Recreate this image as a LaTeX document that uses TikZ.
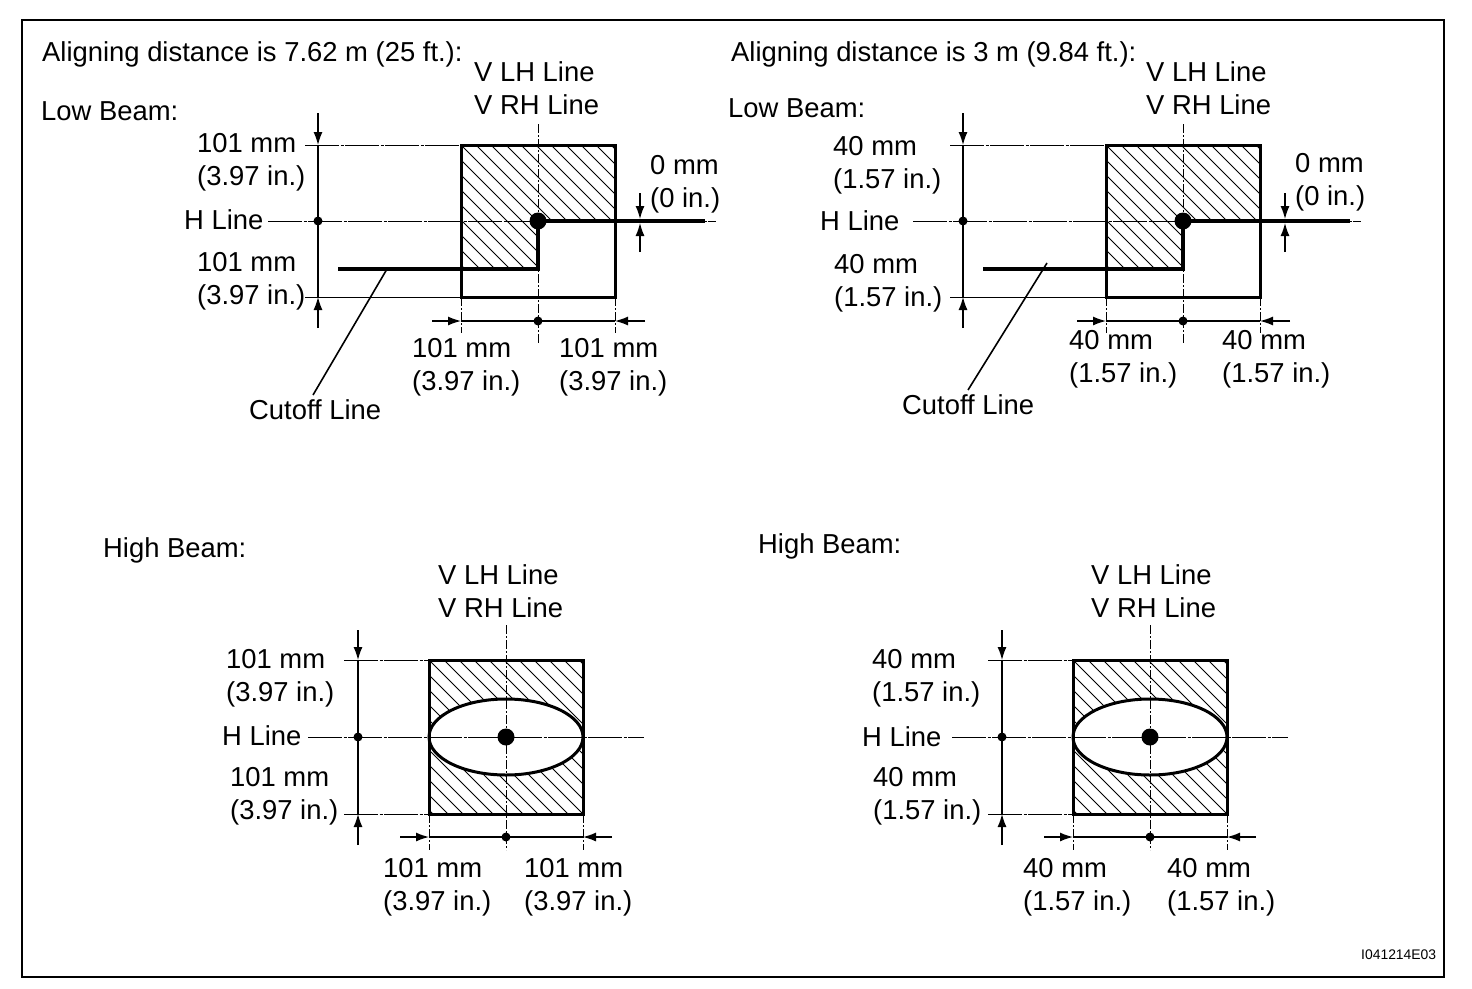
\documentclass[tikz,border=0pt]{standalone}
\usepackage{fontspec}
\setmainfont{Liberation Sans}
\usetikzlibrary{arrows.meta}
\tikzset{
  lbl/.style={anchor=west,inner sep=0pt,align=left,text=black,yshift=-2.5pt,font=\fontsize{27.4}{33}\selectfont},
  tiny/.style={anchor=west,inner sep=0pt,font=\fontsize{13.9}{15}\selectfont},
  frameline/.style={draw=black,line width=2pt},
  boxline/.style={draw=black,line width=3pt,line join=miter},
  beam/.style={draw=black,line width=4.6pt,line join=miter},
  dimline/.style={draw=black,line width=1.6pt},
  thin line/.style={draw=black,line width=1pt},
  axisline/.style={draw=black,line width=1pt,dash pattern=on 34pt off 1.5pt on 3pt off 1.5pt},
  centerline/.style={draw=black,line width=1pt,dash pattern=on 9pt off 2pt on 2pt off 2pt},
  hatchline/.style={draw=black,line width=1pt},
  arrowline/.style={draw=black,line width=1.3pt,-{Latex[length=13pt,width=9pt]}},
  leader/.style={draw=black,line width=1.6pt},
  dot/.style={circle,fill=black,inner sep=0pt,minimum size=#1},
}
% #1 name prefix, #2 x shift
\newcommand{\LowPanel}[2]{%
\begin{scope}[shift={(#2,0)}]
  \coordinate (#1tl) at (461,145);
  \coordinate (#1tr) at (615,145);
  \coordinate (#1br) at (615,297);
  \coordinate (#1bl) at (461,297);
  \begin{scope}
    \clip (461,145) -- (615,145) -- (615,221) -- (538,221) -- (538,269) -- (461,269) -- cycle;
    \foreach \i in {-135,-120,...,150} {\draw[hatchline] (461+\i,145) -- (461+\i+130,275);}
  \end{scope}
  \coordinate (#1hl) at (268,221);
  \coordinate (#1hr) at (716,221);
  \draw[axisline] (#1hl) -- (#1hr);
  \coordinate (#1vt) at (538,124);
  \coordinate (#1vb) at (538,344);
  \draw[centerline] (#1vt) -- (#1vb);
  \coordinate (#1tdl) at (305,145);
  \coordinate (#1bdl) at (305,297);
  \draw[axisline] (#1tdl) -- (#1tl);
  \draw[thin line] (#1bdl) -- (#1bl);
  \coordinate (#1exl) at (461,333);
  \coordinate (#1exr) at (615,333);
  \draw[centerline] (#1bl) -- (#1exl);
  \draw[centerline] (#1br) -- (#1exr);
  \draw[boxline] (#1bl) -- (#1tl) -- (#1tr) -- (#1br) -- cycle;
  \coordinate (#1ca) at (338,269);
  \coordinate (#1cb) at (538,269);
  \coordinate (#1cc) at (538,221);
  \coordinate (#1cd) at (705,221);
  \draw[beam] (#1ca) -- (#1cb) -- (#1cc) -- (#1cd);
  \node[dot=17pt] (#1cdot) at (538,221) {};
  \coordinate (#1dt) at (318,113);
  \coordinate (#1dtt) at (318,145);
  \coordinate (#1db) at (318,328);
  \coordinate (#1dbt) at (318,297);
  \draw[dimline] (#1dtt) -- (#1dbt);
  \draw[arrowline] (#1dt) -- (#1dtt);
  \draw[arrowline] (#1db) -- (#1dbt);
  \node[dot=9pt] (#1ldot) at (318,221) {};
  \coordinate (#1al) at (432,321);
  \coordinate (#1ar) at (645,321);
  \coordinate (#1ale) at (461,321);
  \coordinate (#1are) at (615,321);
  \draw[dimline] (#1ale) -- (#1are);
  \draw[arrowline] (#1al) -- (#1ale);
  \draw[arrowline] (#1ar) -- (#1are);
  \node[dot=9pt] (#1bdot) at (538,321) {};
  \coordinate (#1za) at (640,193);
  \coordinate (#1zb) at (640,252);
  \coordinate (#1zat) at (640,219);
  \coordinate (#1zbt) at (640,223);
  \draw[arrowline] (#1za) -- (#1zat);
  \draw[arrowline] (#1zb) -- (#1zbt);
\end{scope}}
\newcommand{\HighPanel}[2]{%
\begin{scope}[shift={(#2,0)}]
  \coordinate (#1tl) at (429,660);
  \coordinate (#1tr) at (583,660);
  \coordinate (#1br) at (583,814);
  \coordinate (#1bl) at (429,814);
  \begin{scope}
    \clip (429,660) rectangle (583,814);
    \foreach \i in {-150,-135,...,150} {\draw[hatchline] (429+\i,660) -- (429+\i+154,814);}
  \end{scope}
  \draw[boxline,fill=white] (506,737) ellipse [x radius=77, y radius=38];
  \coordinate (#1hl) at (308,737);
  \coordinate (#1hr) at (644,737);
  \draw[axisline] (#1hl) -- (#1hr);
  \coordinate (#1vt) at (506,625);
  \coordinate (#1vb) at (506,850);
  \draw[centerline] (#1vt) -- (#1vb);
  \coordinate (#1tdl) at (344,660);
  \coordinate (#1bdl) at (344,814);
  \draw[axisline] (#1tdl) -- (#1tl);
  \draw[axisline] (#1bdl) -- (#1bl);
  \coordinate (#1exl) at (429,850);
  \coordinate (#1exr) at (583,850);
  \draw[centerline] (#1bl) -- (#1exl);
  \draw[centerline] (#1br) -- (#1exr);
  \draw[boxline] (#1bl) -- (#1tl) -- (#1tr) -- (#1br) -- cycle;
  \node[dot=17pt] (#1cdot) at (506,737) {};
  \coordinate (#1dt) at (358,630);
  \coordinate (#1dtt) at (358,660);
  \coordinate (#1db) at (358,845);
  \coordinate (#1dbt) at (358,814);
  \draw[dimline] (#1dtt) -- (#1dbt);
  \draw[arrowline] (#1dt) -- (#1dtt);
  \draw[arrowline] (#1db) -- (#1dbt);
  \node[dot=9pt] (#1ldot) at (358,737) {};
  \coordinate (#1al) at (400,837);
  \coordinate (#1ar) at (612,837);
  \coordinate (#1ale) at (429,837);
  \coordinate (#1are) at (583,837);
  \draw[dimline] (#1ale) -- (#1are);
  \draw[arrowline] (#1al) -- (#1ale);
  \draw[arrowline] (#1ar) -- (#1are);
  \node[dot=9pt] (#1bdot) at (506,837) {};
\end{scope}}
\begin{document}
\begin{tikzpicture}[x=1pt,y=-1pt]
\useasboundingbox (0,0) rectangle (1472,988);
\fill[white] (0,0) rectangle (1472,988);
\draw[frameline] (22,20) rectangle (1444,977);

\LowPanel{a}{0}
\LowPanel{b}{645}
\HighPanel{c}{0}
\HighPanel{d}{644}

\coordinate (alead) at (387,269);
\coordinate (aleadend) at (313,395);
\draw[leader] (alead) -- (aleadend);
\coordinate (blead) at (1047,263);
\coordinate (bleadend) at (968,390);
\draw[leader] (blead) -- (bleadend);

\node[lbl] (t1) at (42,52) {Aligning distance is 7.62 m (25 ft.):};
\node[lbl] (t2) at (731,52) {Aligning distance is 3 m (9.84 ft.):};
\node[lbl] (t3) at (474,85.5) {V LH Line\\V RH Line};
\node[lbl] (t4) at (1146,86) {V LH Line\\V RH Line};
\node[lbl] (t5) at (41,109) {Low Beam:};
\node[lbl] (t6) at (728,106) {Low Beam:};
\node[lbl] (t7) at (197,160) {101 mm\\(3.97 in.)};
\node[lbl] (t8) at (833,163) {40 mm\\(1.57 in.)};
\node[lbl] (t9) at (650,182) {\hspace*{0pt}0 mm\\(0 in.)};
\node[lbl] (t10) at (1295,180) {\hspace*{0pt}0 mm\\(0 in.)};
\node[lbl] (t11) at (184,217) {H Line};
\node[lbl] (t12) at (820,218) {H Line};
\node[lbl] (t13) at (197,279) {101 mm\\(3.97 in.)};
\node[lbl] (t14) at (834,281) {40 mm\\(1.57 in.)};
\node[lbl] (t15) at (412,365) {101 mm\\(3.97 in.)};
\node[lbl] (t16) at (559,365) {101 mm\\(3.97 in.)};
\node[lbl] (t17) at (1069,357) {40 mm\\(1.57 in.)};
\node[lbl] (t18) at (1222,357) {40 mm\\(1.57 in.)};
\node[lbl] (t19) at (249,407) {Cutoff Line};
\node[lbl] (t20) at (902,402) {Cutoff Line};
\node[lbl] (t21) at (103,548) {High Beam:};
\node[lbl] (t22) at (758,544) {High Beam:};
\node[lbl] (t23) at (438,589) {V LH Line\\V RH Line};
\node[lbl] (t24) at (1091,589) {V LH Line\\V RH Line};
\node[lbl] (t25) at (226,676) {101 mm\\(3.97 in.)};
\node[lbl] (t26) at (872,676) {40 mm\\(1.57 in.)};
\node[lbl] (t27) at (222,733) {H Line};
\node[lbl] (t28) at (862,734) {H Line};
\node[lbl] (t29) at (230,794) {101 mm\\(3.97 in.)};
\node[lbl] (t30) at (873,794) {40 mm\\(1.57 in.)};
\node[lbl] (t31) at (383,885) {101 mm\\(3.97 in.)};
\node[lbl] (t32) at (524,885) {101 mm\\(3.97 in.)};
\node[lbl] (t33) at (1023,885) {40 mm\\(1.57 in.)};
\node[lbl] (t34) at (1167,885) {40 mm\\(1.57 in.)};
\node[tiny] (t35) at (1361,955) {I041214E03};
\end{tikzpicture}
\end{document}
